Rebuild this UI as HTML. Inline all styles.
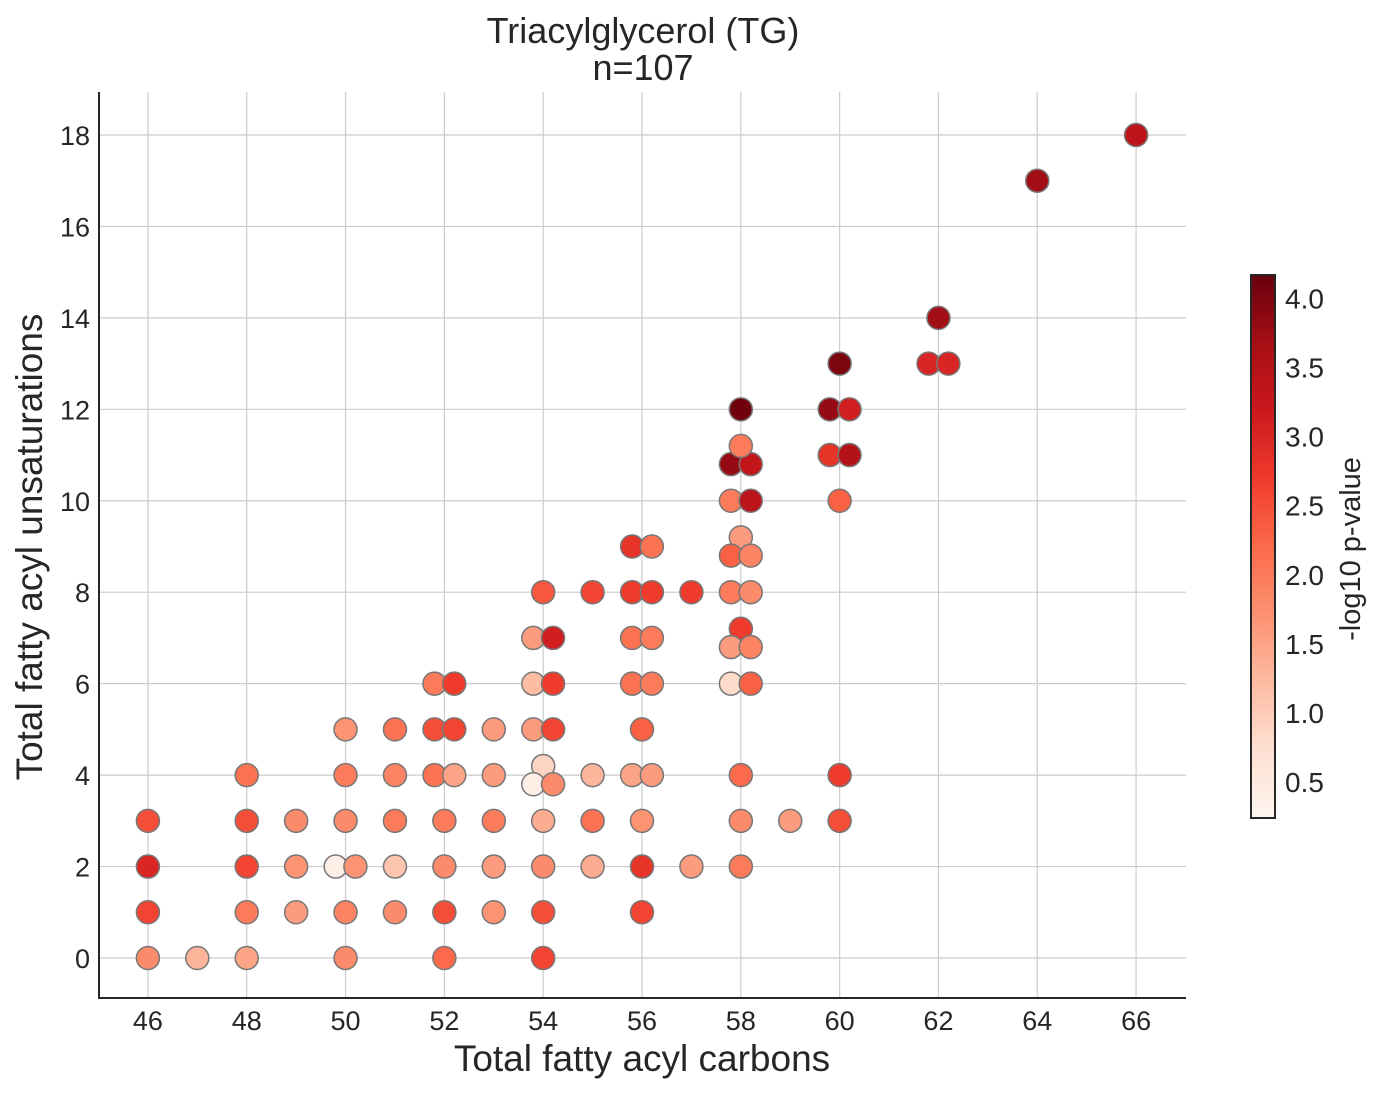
<!DOCTYPE html>
<html><head><meta charset="utf-8"><style>
body{margin:0;background:#fff;}
svg text{font-family:"Liberation Sans",Arial,sans-serif;fill:#262626;}
</style></head><body>
<svg id="chart" width="1380" height="1093" viewBox="0 0 1380 1093" xmlns="http://www.w3.org/2000/svg">
<defs><linearGradient id="cbgrad" x1="0" y1="1" x2="0" y2="0">
<stop offset="0" stop-color="#fff5f0"/><stop offset="0.125" stop-color="#fee0d2"/><stop offset="0.25" stop-color="#fcbba1"/><stop offset="0.375" stop-color="#fc9272"/><stop offset="0.5" stop-color="#fb6a4a"/><stop offset="0.625" stop-color="#ef3b2c"/><stop offset="0.75" stop-color="#cb181d"/><stop offset="0.875" stop-color="#a50f15"/><stop offset="1" stop-color="#67000d"/>
</linearGradient></defs>
<g id="grid"></g><g id="points"></g><g id="axes"></g><g id="cbar"></g>
</svg>
<script>
const xTicks=[46,48,50,52,54,56,58,60,62,64,66];
const yTicks=[0,2,4,6,8,10,12,14,16,18];
const cbTicks=[0.5,1.0,1.5,2.0,2.5,3.0,3.5,4.0];
const xs=[46,46,46,46,47,48,48,48,48,48,49,49,49,50,50,50,49.8,50.2,50,50,51,51,51,51,51,51.8,52.2,51.8,52.2,51.8,52.2,52,52,52,52,53,53,53,53,53,54,53.8,54.2,53.8,54.2,53.8,54.2,54,53.8,54.2,54,54,54,54,55,55,55,55,55.8,56.2,55.8,56.2,55.8,56.2,55.8,56.2,56,55.8,56.2,56,56,56,57,57,58,57.8,58.2,58,57.8,58.2,58,57.8,58.2,57.8,58.2,58,57.8,58.2,57.8,58.2,58,58,58,59,60,59.8,60.2,59.8,60.2,60,60,60,62,61.8,62.2,64,66];
const ys=[3,2,1,0,0,4,3,2,1,0,3,2,1,5,4,3,2,2,1,0,5,4,3,2,1,6,6,5,5,4,4,3,2,1,0,5,4,3,2,1,8,7,7,6,6,5,5,4.2,3.8,3.8,3,2,1,0,8,4,3,2,9,9,8,8,7,7,6,6,5,4,4,3,2,1,8,2,12,10.8,10.8,11.2,10,10,9.2,8.8,8.8,8,8,7.2,6.8,6.8,6,6,4,3,2,3,13,12,12,11,11,10,4,3,14,13,13,17,18];
const vals=[2.5,3.0,2.6,1.8,1.3,2.1,2.5,2.6,2.0,1.5,1.8,1.7,1.6,1.7,2.0,1.8,0.4,1.7,1.9,1.8,2.1,1.9,2.0,1.1,1.8,2.0,2.7,2.5,2.6,2.1,1.5,2.0,1.8,2.5,2.2,1.6,1.6,2.0,1.6,1.7,2.4,1.6,3.1,1.2,2.7,1.6,2.6,0.9,0.4,1.8,1.4,1.8,2.5,2.6,2.6,1.3,2.1,1.4,2.8,2.1,2.7,2.7,2.1,2.0,2.1,2.0,2.3,1.5,1.6,1.7,2.8,2.6,2.7,1.6,4.1,3.8,3.3,2.0,2.0,3.4,1.6,2.3,1.9,2.0,1.8,2.7,1.6,1.9,0.8,2.3,2.2,1.8,2.0,1.6,4.0,3.8,3.1,2.8,3.5,2.3,2.7,2.5,3.7,3.0,3.0,3.7,3.4];
const NS="http://www.w3.org/2000/svg";
const X0=45.01,X1=67.01,Y0=-0.875,Y1=18.94,L=99,R=1186,T=92,B=998;
const sx=v=>L+(v-X0)/(X1-X0)*(R-L);
const sy=v=>B-(v-Y0)/(Y1-Y0)*(B-T);
const CMIN=0.24,CMAX=4.17,CT=275,CB=818;
const cy=v=>CB-(v-CMIN)/(CMAX-CMIN)*(CB-CT);
const stops=["#fff5f0","#fee0d2","#fcbba1","#fc9272","#fb6a4a","#ef3b2c","#cb181d","#a50f15","#67000d"].map(h=>[1,3,5].map(i=>parseInt(h.substr(i,2),16)));
function cmap(v){let t=Math.max(0,Math.min(1,(v-CMIN)/(CMAX-CMIN)))*8;let i=Math.min(7,Math.floor(t)),f=t-i;const c=stops[i].map((a,k)=>Math.round(a+(stops[i+1][k]-a)*f));return `rgb(${c})`;}
function el(tag,attrs,parent,txt){const e=document.createElementNS(NS,tag);for(const k in attrs)e.setAttribute(k,attrs[k]);if(txt!==undefined)e.textContent=txt;parent.appendChild(e);return e;}
const grid=document.getElementById('grid'),pts=document.getElementById('points'),axes=document.getElementById('axes'),cb=document.getElementById('cbar');
xTicks.forEach(t=>{const g=el('line',{x1:sx(t),x2:sx(t),y1:T,y2:B,stroke:'#cccccc','stroke-width':1.2},grid);


const l=el('text',{x:sx(t),y:1030,'text-anchor':'middle','font-size':27},axes,String(t));

});
yTicks.forEach(t=>{const g=el('line',{x1:L,x2:R,y1:sy(t),y2:sy(t),stroke:'#cccccc','stroke-width':1.2},grid);


const l=el('text',{x:90,y:sy(t)+10,'text-anchor':'end','font-size':27},axes,String(t));

});
xs.forEach((x,i)=>{const c=el('circle',{cx:sx(x),cy:sy(ys[i]),r:11.5,fill:cmap(vals[i]),stroke:'#777','stroke-width':1.5},pts);

});
const sp=el('path',{d:`M${L},${T} V${B} H${R}`,fill:'none',stroke:'#262626','stroke-width':2},axes);


[['Triacylglycerol (TG)',43,'chart-title'],['n=107',80,'chart-subtitle']].forEach(([s,y,n])=>{const t=el('text',{x:643,y:y,'text-anchor':'middle','font-size':36},axes,s);

});
const xl=el('text',{x:642,y:1071,'text-anchor':'middle','font-size':37},axes,'Total fatty acyl carbons');


const yl=el('text',{x:0,y:0,'text-anchor':'middle','font-size':37,transform:`translate(42,547) rotate(-90)`},axes,'Total fatty acyl unsaturations');


const bar=el('rect',{x:1251,y:CT,width:24,height:CB-CT,fill:'url(#cbgrad)',stroke:'#262626','stroke-width':2},cb);


cbTicks.forEach(t=>{const l=el('text',{x:1285,y:cy(t)+10,'font-size':28},cb,t.toFixed(1));

});
const cl=el('text',{x:0,y:0,'text-anchor':'middle','font-size':29,transform:`translate(1360,549) rotate(-90)`},cb,'-log10 p-value');


</script>
</body></html>
